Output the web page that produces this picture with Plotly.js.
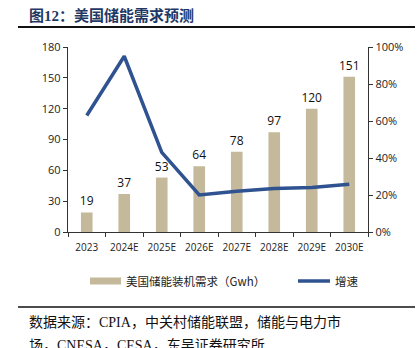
<!DOCTYPE html>
<html><head><meta charset="utf-8">
<script src="https://cdn.plot.ly/plotly-3.0.1.min.js"></script>
<style>html,body{margin:0;padding:0;background:#fff}#c{width:419px;height:348px}</style>
</head><body><div id="c"></div>
<script>
var categories = ['2023','2024E','2025E','2026E','2027E','2028E','2029E','2030E'];
var demand = [19, 37, 53, 64, 78, 97, 120, 151];
var growth = [0.63, 0.95, 0.43, 0.20, 0.22, 0.235, 0.24, 0.258];
var barName = '美国储能装机需求（Gwh）';
var lineName = '增速';
var titleText = '图12：美国储能需求预测';
var source1 = '数据来源：CPIA，中关村储能联盟，储能与电力市';
var source2 = '场，CNESA，CESA，东吴证券研究所';

var W=419,H=348,L=68,R=51,T=47,B=116;
var pw=W-L-R, ph=H-T-B;
function px(x){return (x-L)/pw;}
function py(y){return (H-B-y)/ph;}

var barColor='#C4B99B', lineColor='#2F5290';
var tickFont={family:'"Open Sans","Noto Sans CJK SC",sans-serif',size:11,color:'#222'};
var xFont={family:'"Open Sans",sans-serif',size:10,color:'#222'};
var cjk='"Liberation Serif","Noto Sans CJK SC",serif';

var traces=[
 {type:'bar',x:categories,y:demand,name:barName,marker:{color:barColor},width:0.31,
  text:demand.map(String),textposition:'outside',cliponaxis:false,constraintext:'none',
  textfont:{family:tickFont.family,size:12,color:'#111'},hoverinfo:'skip',showlegend:false},
 {type:'scatter',mode:'lines',x:categories,y:growth,yaxis:'y2',name:lineName,
  line:{color:lineColor,width:3.5},showlegend:false,hoverinfo:'skip'}
];

var layout={
 width:W,height:H,margin:{l:L,r:R,t:T,b:B,pad:0},
 paper_bgcolor:'#fff',plot_bgcolor:'#fff',showlegend:false,
 font:tickFont,
 xaxis:{type:'category',showgrid:false,showline:true,linecolor:'#333',linewidth:1.3,
   ticks:'outside',tickson:'boundaries',ticklen:4,tickcolor:'#333',tickfont:xFont,tickangle:0,
   ticklabelstandoff:6,range:[-0.5,7.5],fixedrange:true},
 yaxis:{range:[0,180],dtick:30,showgrid:false,zeroline:false,showline:true,linecolor:'#333',linewidth:1.3,
   ticks:'outside',ticklen:4,tickcolor:'#333',tickfont:tickFont},
 yaxis2:{range:[0,1],dtick:0.2,tickformat:'.0%',overlaying:'y',side:'right',showgrid:false,zeroline:false,
   showline:true,linecolor:'#333',linewidth:1.3,ticks:'outside',ticklen:4,tickcolor:'#333',tickfont:tickFont},
 shapes:[
  {type:'line',xref:'paper',yref:'paper',x0:px(18),x1:px(415),y0:py(27),y1:py(27),line:{color:'#111',width:2}},
  {type:'line',xref:'paper',yref:'paper',x0:px(18),x1:px(415),y0:py(307),y1:py(307),line:{color:'#111',width:1.5}},
  {type:'rect',xref:'paper',yref:'paper',x0:px(90),x1:px(121),y0:py(284.5),y1:py(277.5),fillcolor:barColor,line:{width:0}},
  {type:'line',xref:'paper',yref:'paper',x0:px(298),x1:px(330),y0:py(281),y1:py(281),line:{color:lineColor,width:3.5}}
 ],
 annotations:[
  {xref:'paper',yref:'paper',x:px(27),y:py(15),xanchor:'left',yanchor:'middle',showarrow:false,
   text:'<b>'+titleText+'</b>',font:{family:cjk,size:15,color:'#1F3864'}},
  {xref:'paper',yref:'paper',x:px(124),y:py(281),xanchor:'left',yanchor:'middle',showarrow:false,
   text:barName,font:{family:'"Noto Sans CJK SC",sans-serif',size:11.5,color:'#222'}},
  {xref:'paper',yref:'paper',x:px(333),y:py(281),xanchor:'left',yanchor:'middle',showarrow:false,
   text:lineName,font:{family:'"Noto Sans CJK SC",sans-serif',size:11.5,color:'#222'}},
  {xref:'paper',yref:'paper',x:px(27),y:py(322),xanchor:'left',yanchor:'middle',showarrow:false,
   text:source1,font:{family:cjk,size:14,color:'#111'}},
  {xref:'paper',yref:'paper',x:px(27),y:py(345),xanchor:'left',yanchor:'middle',showarrow:false,
   text:source2,font:{family:cjk,size:14,color:'#111'}}
 ]
};
Plotly.newPlot('c',traces,layout,{staticPlot:true,displayModeBar:false});
</script></body></html>
